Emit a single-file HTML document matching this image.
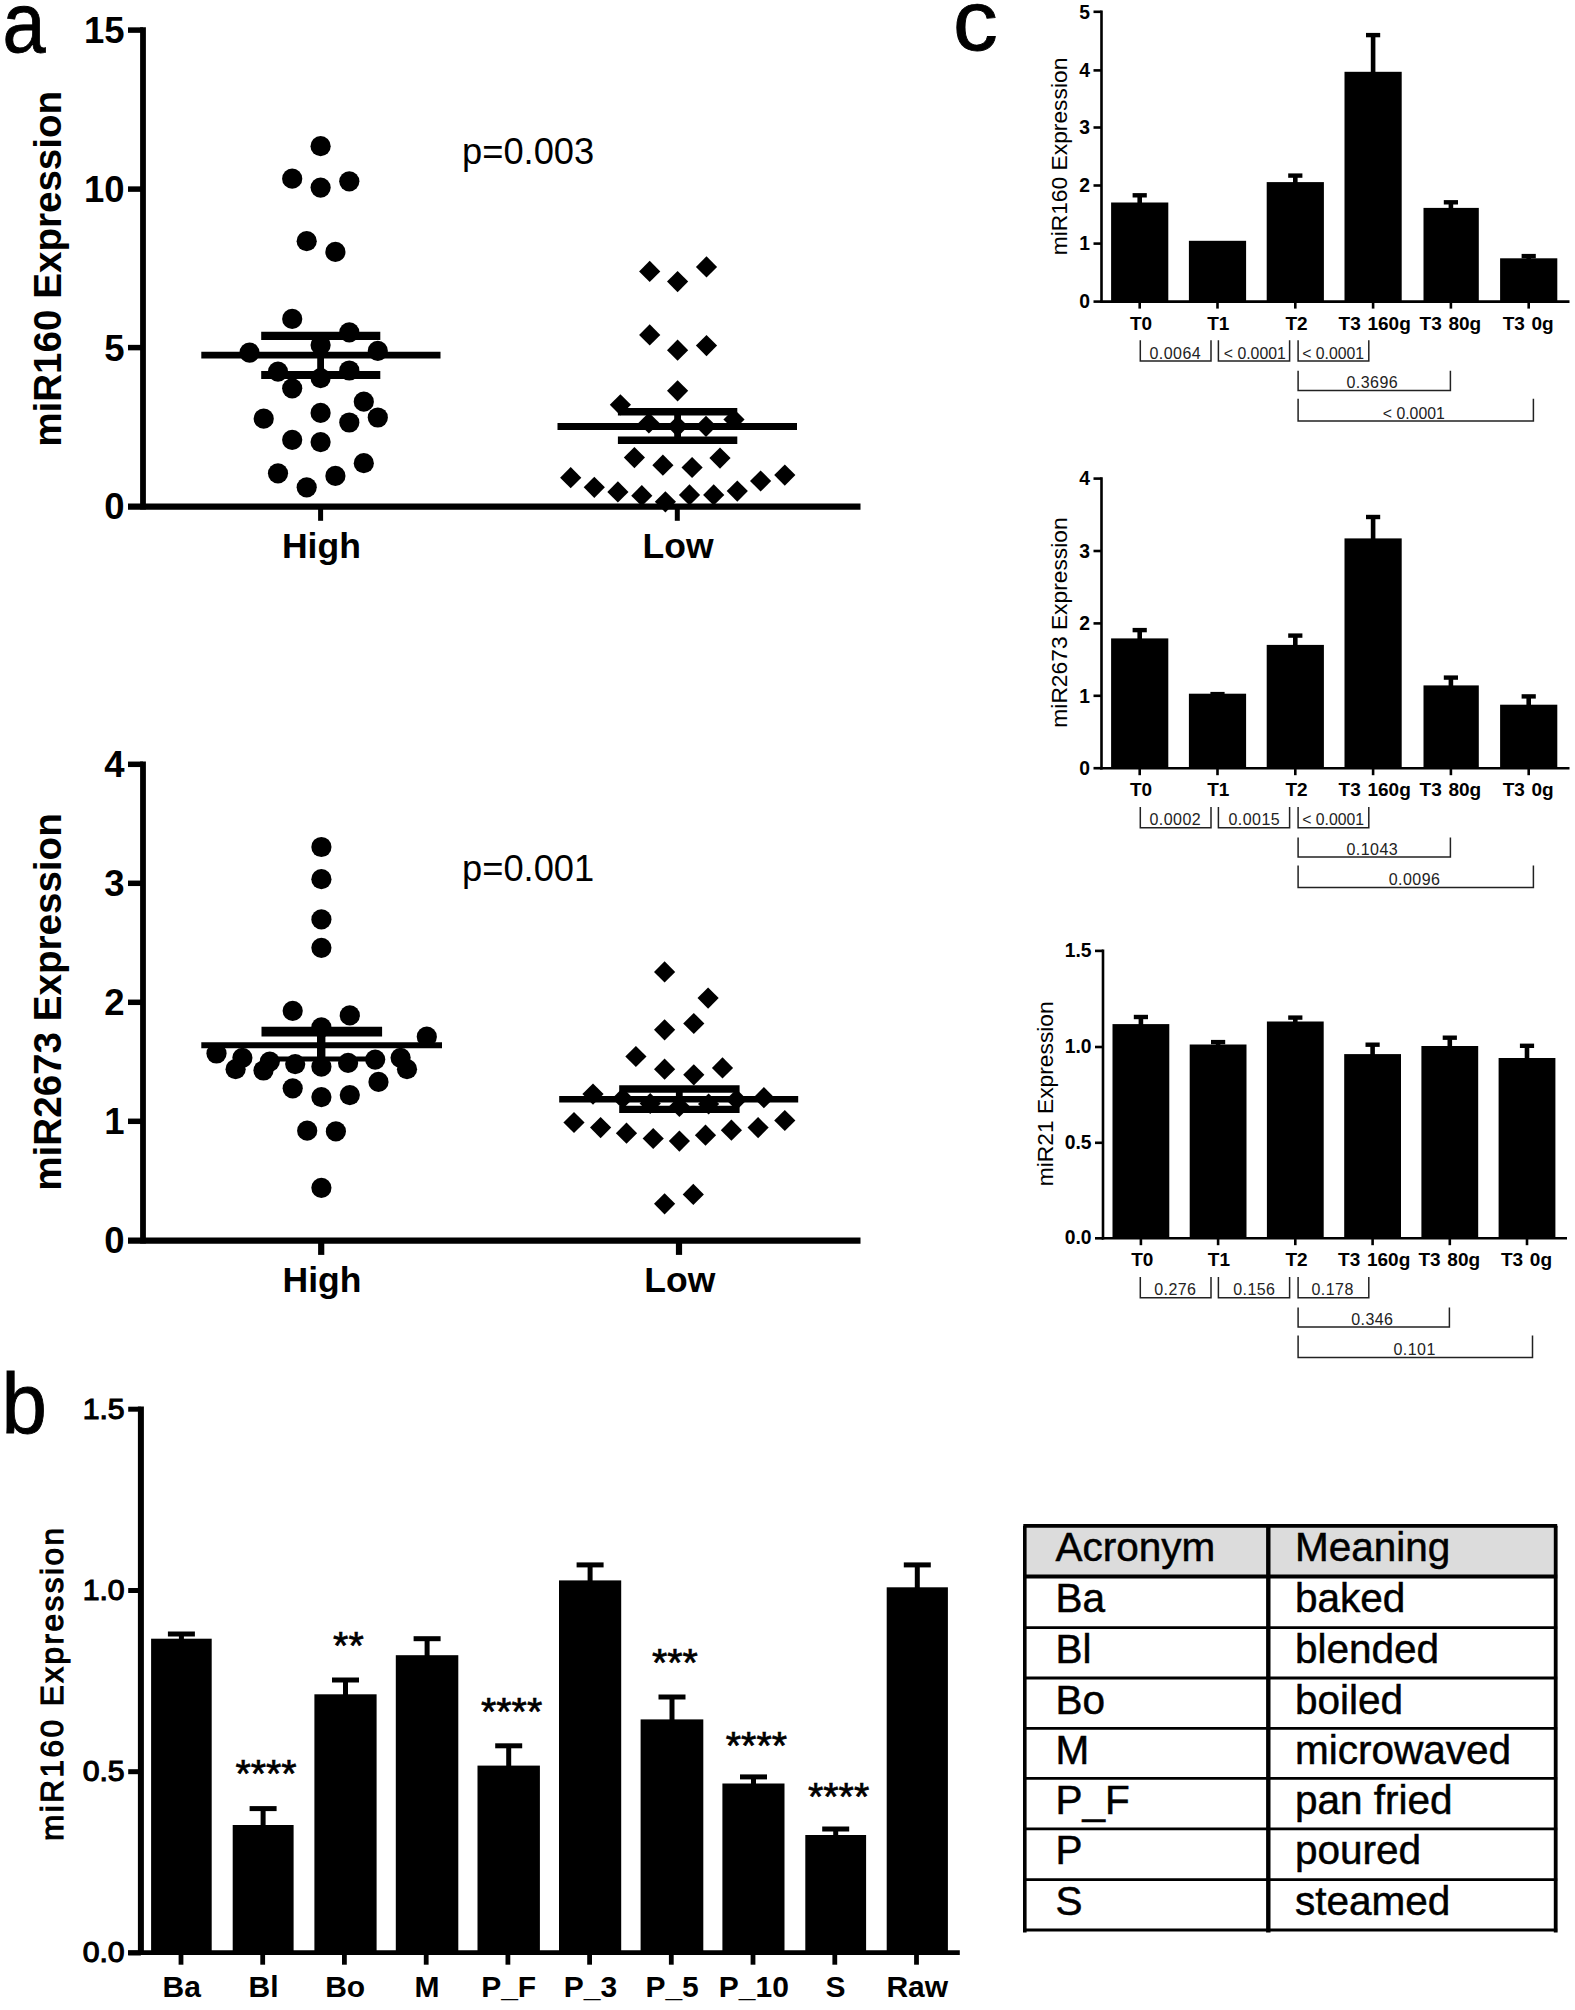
<!DOCTYPE html>
<html lang="en"><head><meta charset="utf-8"><title>Figure</title>
<style>
html,body{margin:0;padding:0;background:#fff}
svg{display:block}
text{font-family:"Liberation Sans",Arial,Helvetica,sans-serif}
</style></head>
<body>
<svg width="1575" height="2010" viewBox="0 0 1575 2010">
<rect width="1575" height="2010" fill="#fff"/>
<text transform="translate(2.4,52) scale(0.9,1)" font-size="86" stroke="#000" stroke-width="0.9">a</text>
<text transform="translate(1.5,1432.5) scale(0.95,1)" font-size="86" stroke="#000" stroke-width="0.9">b</text>
<text transform="translate(953,50.2) scale(1.04,1)" font-size="86" stroke="#000" stroke-width="0.9">c</text>
<line x1="143.0" y1="27.3" x2="143.0" y2="509.4" stroke="#000" stroke-width="5.8" stroke-linecap="butt"/>
<line x1="128.0" y1="506.6" x2="860.5" y2="506.6" stroke="#000" stroke-width="6.3" stroke-linecap="butt"/>
<line x1="128.0" y1="30.1" x2="143.0" y2="30.1" stroke="#000" stroke-width="5.5" stroke-linecap="butt"/>
<text x="124.5" y="43.1" font-size="36.5" font-weight="bold" text-anchor="end" fill="#000" >15</text>
<line x1="128.0" y1="189.1" x2="143.0" y2="189.1" stroke="#000" stroke-width="5.5" stroke-linecap="butt"/>
<text x="124.5" y="202.1" font-size="36.5" font-weight="bold" text-anchor="end" fill="#000" >10</text>
<line x1="128.0" y1="347.6" x2="143.0" y2="347.6" stroke="#000" stroke-width="5.5" stroke-linecap="butt"/>
<text x="124.5" y="360.6" font-size="36.5" font-weight="bold" text-anchor="end" fill="#000" >5</text>
<text x="124.5" y="519.3" font-size="36.5" font-weight="bold" text-anchor="end" fill="#000" >0</text>
<line x1="320.6" y1="506.3" x2="320.6" y2="520.8" stroke="#000" stroke-width="5" stroke-linecap="butt"/>
<text x="321.4" y="558.3" font-size="35.5" font-weight="bold" text-anchor="middle" fill="#000" >High</text>
<line x1="677.3" y1="506.3" x2="677.3" y2="520.8" stroke="#000" stroke-width="5" stroke-linecap="butt"/>
<text x="678.1" y="558.3" font-size="35.5" font-weight="bold" text-anchor="middle" fill="#000" >Low</text>
<text transform="translate(61.4,268.8) rotate(-90)" font-size="38.6" font-weight="bold" text-anchor="middle" fill="#000" >miR160 Expression</text>
<circle cx="320.6" cy="146.2" r="10.1"/>
<circle cx="292.2" cy="178.7" r="10.1"/>
<circle cx="320.6" cy="187.6" r="10.1"/>
<circle cx="349.3" cy="181.3" r="10.1"/>
<circle cx="306.7" cy="241.2" r="10.1"/>
<circle cx="335.4" cy="251.9" r="10.1"/>
<circle cx="292.2" cy="318.9" r="10.1"/>
<circle cx="349.3" cy="332.4" r="10.1"/>
<circle cx="320.6" cy="345.1" r="10.1"/>
<circle cx="249.5" cy="352.7" r="10.1"/>
<circle cx="377.8" cy="350.9" r="10.1"/>
<circle cx="278.0" cy="371.7" r="10.1"/>
<circle cx="349.3" cy="370.5" r="10.1"/>
<circle cx="320.6" cy="378.1" r="10.1"/>
<circle cx="292.2" cy="388.3" r="10.1"/>
<circle cx="363.8" cy="401.7" r="10.1"/>
<circle cx="320.6" cy="412.9" r="10.1"/>
<circle cx="263.7" cy="418.7" r="10.1"/>
<circle cx="377.8" cy="417.5" r="10.1"/>
<circle cx="349.3" cy="422.5" r="10.1"/>
<circle cx="292.2" cy="439.8" r="10.1"/>
<circle cx="320.6" cy="442.1" r="10.1"/>
<circle cx="363.8" cy="463.2" r="10.1"/>
<circle cx="278.0" cy="473.3" r="10.1"/>
<circle cx="335.4" cy="475.9" r="10.1"/>
<circle cx="306.7" cy="487.3" r="10.1"/>
<path d="M649.7 260.8L660.3 271.4L649.7 282.0L639.1 271.4Z"/>
<path d="M677.6 271.0L688.2 281.6L677.6 292.2L667.0 281.6Z"/>
<path d="M706.5 256.3L717.1 266.9L706.5 277.5L695.9 266.9Z"/>
<path d="M649.7 324.3L660.3 334.9L649.7 345.5L639.1 334.9Z"/>
<path d="M677.6 339.6L688.2 350.2L677.6 360.8L667.0 350.2Z"/>
<path d="M706.5 335.0L717.1 345.6L706.5 356.2L695.9 345.6Z"/>
<path d="M677.6 380.2L688.2 390.8L677.6 401.4L667.0 390.8Z"/>
<path d="M620.4 394.2L631.0 404.8L620.4 415.4L609.8 404.8Z"/>
<path d="M734.0 408.9L744.6 419.5L734.0 430.1L723.4 419.5Z"/>
<path d="M648.9 412.4L659.5 423.0L648.9 433.6L638.3 423.0Z"/>
<path d="M677.6 415.7L688.2 426.3L677.6 436.9L667.0 426.3Z"/>
<path d="M706.0 415.7L716.6 426.3L706.0 436.9L695.4 426.3Z"/>
<path d="M634.4 447.0L645.0 457.6L634.4 468.2L623.8 457.6Z"/>
<path d="M720.0 447.5L730.6 458.1L720.0 468.7L709.4 458.1Z"/>
<path d="M662.9 454.6L673.5 465.2L662.9 475.8L652.3 465.2Z"/>
<path d="M692.1 456.9L702.7 467.5L692.1 478.1L681.5 467.5Z"/>
<path d="M570.7 467.1L581.3 477.7L570.7 488.3L560.1 477.7Z"/>
<path d="M784.8 464.5L795.4 475.1L784.8 485.7L774.2 475.1Z"/>
<path d="M760.6 470.4L771.2 481.0L760.6 491.6L750.0 481.0Z"/>
<path d="M594.3 476.7L604.9 487.3L594.3 497.9L583.7 487.3Z"/>
<path d="M617.9 481.3L628.5 491.9L617.9 502.5L607.3 491.9Z"/>
<path d="M737.3 480.5L747.9 491.1L737.3 501.7L726.7 491.1Z"/>
<path d="M641.8 485.1L652.4 495.7L641.8 506.3L631.2 495.7Z"/>
<path d="M689.5 484.3L700.1 494.9L689.5 505.5L678.9 494.9Z"/>
<path d="M713.7 484.3L724.3 494.9L713.7 505.5L703.1 494.9Z"/>
<path d="M665.4 491.2L676.0 501.8L665.4 512.4L654.8 501.8Z"/>
<line x1="201.3" y1="355.2" x2="440.5" y2="355.2" stroke="#000" stroke-width="6.8" stroke-linecap="butt"/>
<line x1="261.2" y1="335.9" x2="380.3" y2="335.9" stroke="#000" stroke-width="8.3" stroke-linecap="butt"/>
<line x1="261.2" y1="375.0" x2="380.3" y2="375.0" stroke="#000" stroke-width="8.1" stroke-linecap="butt"/>
<line x1="320.6" y1="335.9" x2="320.6" y2="375.0" stroke="#000" stroke-width="6.8" stroke-linecap="butt"/>
<line x1="557.5" y1="426.5" x2="797.0" y2="426.5" stroke="#000" stroke-width="6.8" stroke-linecap="butt"/>
<line x1="617.9" y1="411.8" x2="737.3" y2="411.8" stroke="#000" stroke-width="7.4" stroke-linecap="butt"/>
<line x1="617.9" y1="440.3" x2="737.3" y2="440.3" stroke="#000" stroke-width="7.5" stroke-linecap="butt"/>
<line x1="677.6" y1="411.8" x2="677.6" y2="440.3" stroke="#000" stroke-width="6.8" stroke-linecap="butt"/>
<text x="462.0" y="163.5" font-size="36.3" font-weight="normal" text-anchor="start" fill="#000" >p=0.003</text>
<line x1="143.0" y1="761.5" x2="143.0" y2="1243.5" stroke="#000" stroke-width="5.8" stroke-linecap="butt"/>
<line x1="128.0" y1="1240.7" x2="860.5" y2="1240.7" stroke="#000" stroke-width="6.3" stroke-linecap="butt"/>
<line x1="128.0" y1="764.3" x2="143.0" y2="764.3" stroke="#000" stroke-width="5.5" stroke-linecap="butt"/>
<text x="124.5" y="777.3" font-size="36.5" font-weight="bold" text-anchor="end" fill="#000" >4</text>
<line x1="128.0" y1="883.3" x2="143.0" y2="883.3" stroke="#000" stroke-width="5.5" stroke-linecap="butt"/>
<text x="124.5" y="896.3" font-size="36.5" font-weight="bold" text-anchor="end" fill="#000" >3</text>
<line x1="128.0" y1="1002.3" x2="143.0" y2="1002.3" stroke="#000" stroke-width="5.5" stroke-linecap="butt"/>
<text x="124.5" y="1015.3" font-size="36.5" font-weight="bold" text-anchor="end" fill="#000" >2</text>
<line x1="128.0" y1="1121.3" x2="143.0" y2="1121.3" stroke="#000" stroke-width="5.5" stroke-linecap="butt"/>
<text x="124.5" y="1134.3" font-size="36.5" font-weight="bold" text-anchor="end" fill="#000" >1</text>
<text x="124.5" y="1253.4" font-size="36.5" font-weight="bold" text-anchor="end" fill="#000" >0</text>
<line x1="321.2" y1="1240.4" x2="321.2" y2="1254.9" stroke="#000" stroke-width="6.2" stroke-linecap="butt"/>
<text x="322.0" y="1292.4" font-size="35.5" font-weight="bold" text-anchor="middle" fill="#000" >High</text>
<line x1="679.0" y1="1240.4" x2="679.0" y2="1254.9" stroke="#000" stroke-width="6.2" stroke-linecap="butt"/>
<text x="679.8" y="1292.4" font-size="35.5" font-weight="bold" text-anchor="middle" fill="#000" >Low</text>
<text transform="translate(61.4,1002.0) rotate(-90)" font-size="38.6" font-weight="bold" text-anchor="middle" fill="#000" >miR2673 Expression</text>
<circle cx="321.4" cy="847.0" r="10.1"/>
<circle cx="321.4" cy="879.2" r="10.1"/>
<circle cx="321.4" cy="919.4" r="10.1"/>
<circle cx="321.4" cy="947.8" r="10.1"/>
<circle cx="292.7" cy="1010.8" r="10.1"/>
<circle cx="349.8" cy="1015.4" r="10.1"/>
<circle cx="321.4" cy="1027.3" r="10.1"/>
<circle cx="426.8" cy="1036.7" r="10.1"/>
<circle cx="216.5" cy="1053.5" r="10.1"/>
<circle cx="242.4" cy="1057.8" r="10.1"/>
<circle cx="269.8" cy="1061.6" r="10.1"/>
<circle cx="375.2" cy="1059.6" r="10.1"/>
<circle cx="400.6" cy="1057.8" r="10.1"/>
<circle cx="295.2" cy="1064.1" r="10.1"/>
<circle cx="321.4" cy="1066.7" r="10.1"/>
<circle cx="348.1" cy="1062.9" r="10.1"/>
<circle cx="235.6" cy="1069.2" r="10.1"/>
<circle cx="263.5" cy="1070.5" r="10.1"/>
<circle cx="407.0" cy="1069.2" r="10.1"/>
<circle cx="378.5" cy="1081.9" r="10.1"/>
<circle cx="292.7" cy="1088.3" r="10.1"/>
<circle cx="349.8" cy="1095.1" r="10.1"/>
<circle cx="321.4" cy="1097.1" r="10.1"/>
<circle cx="307.2" cy="1130.7" r="10.1"/>
<circle cx="335.9" cy="1131.4" r="10.1"/>
<circle cx="321.4" cy="1187.8" r="10.1"/>
<path d="M664.6 961.3L675.2 971.9L664.6 982.5L654.0 971.9Z"/>
<path d="M708.1 987.5L718.7 998.1L708.1 1008.7L697.5 998.1Z"/>
<path d="M693.8 1012.9L704.4 1023.5L693.8 1034.1L683.2 1023.5Z"/>
<path d="M664.6 1019.2L675.2 1029.8L664.6 1040.4L654.0 1029.8Z"/>
<path d="M635.9 1045.9L646.5 1056.5L635.9 1067.1L625.3 1056.5Z"/>
<path d="M664.6 1058.6L675.2 1069.2L664.6 1079.8L654.0 1069.2Z"/>
<path d="M693.8 1064.2L704.4 1074.8L693.8 1085.4L683.2 1074.8Z"/>
<path d="M722.5 1057.3L733.1 1067.9L722.5 1078.5L711.9 1067.9Z"/>
<path d="M593.0 1083.5L603.6 1094.1L593.0 1104.7L582.4 1094.1Z"/>
<path d="M763.9 1087.1L774.5 1097.7L763.9 1108.3L753.3 1097.7Z"/>
<path d="M622.7 1087.8L633.3 1098.4L622.7 1109.0L612.1 1098.4Z"/>
<path d="M650.2 1092.9L660.8 1103.5L650.2 1114.1L639.6 1103.5Z"/>
<path d="M679.4 1095.9L690.0 1106.5L679.4 1117.1L668.8 1106.5Z"/>
<path d="M708.6 1093.4L719.2 1104.0L708.6 1114.6L698.0 1104.0Z"/>
<path d="M736.5 1089.1L747.1 1099.7L736.5 1110.3L725.9 1099.7Z"/>
<path d="M574.0 1111.9L584.6 1122.5L574.0 1133.1L563.4 1122.5Z"/>
<path d="M600.6 1117.0L611.2 1127.6L600.6 1138.2L590.0 1127.6Z"/>
<path d="M626.5 1122.6L637.1 1133.2L626.5 1143.8L615.9 1133.2Z"/>
<path d="M653.2 1127.9L663.8 1138.5L653.2 1149.1L642.6 1138.5Z"/>
<path d="M679.4 1130.5L690.0 1141.1L679.4 1151.7L668.8 1141.1Z"/>
<path d="M705.5 1124.6L716.1 1135.2L705.5 1145.8L694.9 1135.2Z"/>
<path d="M731.4 1119.6L742.0 1130.2L731.4 1140.8L720.8 1130.2Z"/>
<path d="M758.1 1117.0L768.7 1127.6L758.1 1138.2L747.5 1127.6Z"/>
<path d="M784.8 1109.9L795.4 1120.5L784.8 1131.1L774.2 1120.5Z"/>
<path d="M693.3 1183.8L703.9 1194.4L693.3 1205.0L682.7 1194.4Z"/>
<path d="M664.6 1193.2L675.2 1203.8L664.6 1214.4L654.0 1203.8Z"/>
<line x1="201.3" y1="1045.3" x2="442.0" y2="1045.3" stroke="#000" stroke-width="5.9" stroke-linecap="butt"/>
<line x1="261.5" y1="1031.6" x2="382.1" y2="1031.6" stroke="#000" stroke-width="9.6" stroke-linecap="butt"/>
<line x1="261.5" y1="1059.0" x2="382.1" y2="1059.0" stroke="#000" stroke-width="4.8" stroke-linecap="butt"/>
<line x1="321.2" y1="1031.6" x2="321.2" y2="1059.0" stroke="#000" stroke-width="8.4" stroke-linecap="butt"/>
<line x1="559.2" y1="1099.2" x2="798.2" y2="1099.2" stroke="#000" stroke-width="6.4" stroke-linecap="butt"/>
<line x1="619.2" y1="1089.0" x2="739.6" y2="1089.0" stroke="#000" stroke-width="7.6" stroke-linecap="butt"/>
<line x1="619.2" y1="1109.3" x2="739.6" y2="1109.3" stroke="#000" stroke-width="7.2" stroke-linecap="butt"/>
<line x1="679.3" y1="1089.0" x2="679.3" y2="1109.3" stroke="#000" stroke-width="6.8" stroke-linecap="butt"/>
<text x="462.0" y="880.8" font-size="36.3" font-weight="normal" text-anchor="start" fill="#000" >p=0.001</text>
<line x1="140.9" y1="1406.5" x2="140.9" y2="1955.1" stroke="#000" stroke-width="6" stroke-linecap="butt"/>
<line x1="128.0" y1="1952.7" x2="959.8" y2="1952.7" stroke="#000" stroke-width="4.8" stroke-linecap="butt"/>
<line x1="128.2" y1="1409.2" x2="140.9" y2="1409.2" stroke="#000" stroke-width="5" stroke-linecap="butt"/>
<text x="124.6" y="1418.5" font-size="30.2" font-weight="normal" text-anchor="end" fill="#000" stroke="#000" stroke-width="1.2">1.5</text>
<line x1="128.2" y1="1590.5" x2="140.9" y2="1590.5" stroke="#000" stroke-width="5" stroke-linecap="butt"/>
<text x="124.6" y="1599.8" font-size="30.2" font-weight="normal" text-anchor="end" fill="#000" stroke="#000" stroke-width="1.2">1.0</text>
<line x1="128.2" y1="1771.7" x2="140.9" y2="1771.7" stroke="#000" stroke-width="5" stroke-linecap="butt"/>
<text x="124.6" y="1781.0" font-size="30.2" font-weight="normal" text-anchor="end" fill="#000" stroke="#000" stroke-width="1.2">0.5</text>
<line x1="128.2" y1="1953.0" x2="140.9" y2="1953.0" stroke="#000" stroke-width="5" stroke-linecap="butt"/>
<text x="124.6" y="1962.3" font-size="30.2" font-weight="normal" text-anchor="end" fill="#000" stroke="#000" stroke-width="1.2">0.0</text>
<text transform="translate(63.4,1683.2) rotate(-90)" font-size="31.6" font-weight="normal" text-anchor="middle" fill="#000" stroke="#000" stroke-width="1.1" letter-spacing="2.45">miR160 Expression</text>
<rect x="151.1" y="1638.7" width="60.6" height="314.0" fill="#000"/>
<line x1="181.4" y1="1634.0" x2="181.4" y2="1639.7" stroke="#000" stroke-width="5" stroke-linecap="butt"/>
<line x1="167.9" y1="1634.0" x2="194.9" y2="1634.0" stroke="#000" stroke-width="5" stroke-linecap="butt"/>
<line x1="181.0" y1="1952.7" x2="181.0" y2="1964.7" stroke="#000" stroke-width="4.8" stroke-linecap="butt"/>
<text x="181.8" y="1997.0" font-size="30" font-weight="bold" text-anchor="middle" fill="#000" >Ba</text>
<rect x="232.7" y="1825.0" width="60.9" height="127.7" fill="#000"/>
<line x1="263.1" y1="1808.6" x2="263.1" y2="1826.0" stroke="#000" stroke-width="5" stroke-linecap="butt"/>
<line x1="249.6" y1="1808.6" x2="276.6" y2="1808.6" stroke="#000" stroke-width="5" stroke-linecap="butt"/>
<line x1="262.7" y1="1952.7" x2="262.7" y2="1964.7" stroke="#000" stroke-width="4.8" stroke-linecap="butt"/>
<text x="263.5" y="1997.0" font-size="30" font-weight="bold" text-anchor="middle" fill="#000" >Bl</text>
<text x="266.0" y="1787.1" font-size="39.3" font-weight="normal" text-anchor="middle" fill="#000" stroke="#000" stroke-width="0.7">****</text>
<rect x="314.4" y="1694.3" width="62.2" height="258.4" fill="#000"/>
<line x1="345.5" y1="1680.0" x2="345.5" y2="1695.3" stroke="#000" stroke-width="5" stroke-linecap="butt"/>
<line x1="332.0" y1="1680.0" x2="359.0" y2="1680.0" stroke="#000" stroke-width="5" stroke-linecap="butt"/>
<line x1="344.4" y1="1952.7" x2="344.4" y2="1964.7" stroke="#000" stroke-width="4.8" stroke-linecap="butt"/>
<text x="345.2" y="1997.0" font-size="30" font-weight="bold" text-anchor="middle" fill="#000" >Bo</text>
<text x="348.4" y="1658.9" font-size="39.3" font-weight="normal" text-anchor="middle" fill="#000" stroke="#000" stroke-width="0.7">**</text>
<rect x="395.8" y="1655.2" width="62.5" height="297.5" fill="#000"/>
<line x1="427.1" y1="1638.7" x2="427.1" y2="1656.2" stroke="#000" stroke-width="5" stroke-linecap="butt"/>
<line x1="413.6" y1="1638.7" x2="440.6" y2="1638.7" stroke="#000" stroke-width="5" stroke-linecap="butt"/>
<line x1="426.2" y1="1952.7" x2="426.2" y2="1964.7" stroke="#000" stroke-width="4.8" stroke-linecap="butt"/>
<text x="427.0" y="1997.0" font-size="30" font-weight="bold" text-anchor="middle" fill="#000" >M</text>
<rect x="477.5" y="1765.6" width="62.4" height="187.1" fill="#000"/>
<line x1="508.7" y1="1745.8" x2="508.7" y2="1766.6" stroke="#000" stroke-width="5" stroke-linecap="butt"/>
<line x1="495.2" y1="1745.8" x2="522.2" y2="1745.8" stroke="#000" stroke-width="5" stroke-linecap="butt"/>
<line x1="507.9" y1="1952.7" x2="507.9" y2="1964.7" stroke="#000" stroke-width="4.8" stroke-linecap="butt"/>
<text x="508.7" y="1997.0" font-size="30" font-weight="bold" text-anchor="middle" fill="#000" >P_F</text>
<text x="511.6" y="1725.4" font-size="39.3" font-weight="normal" text-anchor="middle" fill="#000" stroke="#000" stroke-width="0.7">****</text>
<rect x="559.0" y="1580.4" width="62.2" height="372.3" fill="#000"/>
<line x1="590.1" y1="1564.9" x2="590.1" y2="1581.4" stroke="#000" stroke-width="5" stroke-linecap="butt"/>
<line x1="576.6" y1="1564.9" x2="603.6" y2="1564.9" stroke="#000" stroke-width="5" stroke-linecap="butt"/>
<line x1="589.6" y1="1952.7" x2="589.6" y2="1964.7" stroke="#000" stroke-width="4.8" stroke-linecap="butt"/>
<text x="590.4" y="1997.0" font-size="30" font-weight="bold" text-anchor="middle" fill="#000" >P_3</text>
<rect x="640.6" y="1719.4" width="62.7" height="233.3" fill="#000"/>
<line x1="672.0" y1="1697.0" x2="672.0" y2="1720.4" stroke="#000" stroke-width="5" stroke-linecap="butt"/>
<line x1="658.5" y1="1697.0" x2="685.5" y2="1697.0" stroke="#000" stroke-width="5" stroke-linecap="butt"/>
<line x1="671.3" y1="1952.7" x2="671.3" y2="1964.7" stroke="#000" stroke-width="4.8" stroke-linecap="butt"/>
<text x="672.1" y="1997.0" font-size="30" font-weight="bold" text-anchor="middle" fill="#000" >P_5</text>
<text x="674.9" y="1675.9" font-size="39.3" font-weight="normal" text-anchor="middle" fill="#000" stroke="#000" stroke-width="0.7">***</text>
<rect x="722.4" y="1783.5" width="62.1" height="169.2" fill="#000"/>
<line x1="753.5" y1="1776.9" x2="753.5" y2="1784.5" stroke="#000" stroke-width="5" stroke-linecap="butt"/>
<line x1="740.0" y1="1776.9" x2="767.0" y2="1776.9" stroke="#000" stroke-width="5" stroke-linecap="butt"/>
<line x1="753.0" y1="1952.7" x2="753.0" y2="1964.7" stroke="#000" stroke-width="4.8" stroke-linecap="butt"/>
<text x="753.8" y="1997.0" font-size="30" font-weight="bold" text-anchor="middle" fill="#000" >P_10</text>
<text x="756.4" y="1759.1" font-size="39.3" font-weight="normal" text-anchor="middle" fill="#000" stroke="#000" stroke-width="0.7">****</text>
<rect x="805.3" y="1835.0" width="60.8" height="117.7" fill="#000"/>
<line x1="835.7" y1="1829.0" x2="835.7" y2="1836.0" stroke="#000" stroke-width="5" stroke-linecap="butt"/>
<line x1="822.2" y1="1829.0" x2="849.2" y2="1829.0" stroke="#000" stroke-width="5" stroke-linecap="butt"/>
<line x1="834.8" y1="1952.7" x2="834.8" y2="1964.7" stroke="#000" stroke-width="4.8" stroke-linecap="butt"/>
<text x="835.6" y="1997.0" font-size="30" font-weight="bold" text-anchor="middle" fill="#000" >S</text>
<text x="838.6" y="1809.6" font-size="39.3" font-weight="normal" text-anchor="middle" fill="#000" stroke="#000" stroke-width="0.7">****</text>
<rect x="886.7" y="1587.3" width="61.2" height="365.4" fill="#000"/>
<line x1="917.3" y1="1564.9" x2="917.3" y2="1588.3" stroke="#000" stroke-width="5" stroke-linecap="butt"/>
<line x1="903.8" y1="1564.9" x2="930.8" y2="1564.9" stroke="#000" stroke-width="5" stroke-linecap="butt"/>
<line x1="916.5" y1="1952.7" x2="916.5" y2="1964.7" stroke="#000" stroke-width="4.8" stroke-linecap="butt"/>
<text x="917.3" y="1997.0" font-size="30" font-weight="bold" text-anchor="middle" fill="#000" >Raw</text>
<line x1="1101.5" y1="10.5" x2="1101.5" y2="302.9" stroke="#000" stroke-width="2.6" stroke-linecap="butt"/>
<line x1="1100.2" y1="301.6" x2="1569.5" y2="301.6" stroke="#000" stroke-width="2.6" stroke-linecap="butt"/>
<line x1="1093.5" y1="11.8" x2="1101.5" y2="11.8" stroke="#000" stroke-width="2.6" stroke-linecap="butt"/>
<text x="1090.0" y="18.6" font-size="19.3" font-weight="bold" text-anchor="end" fill="#000" >5</text>
<line x1="1093.5" y1="70.4" x2="1101.5" y2="70.4" stroke="#000" stroke-width="2.6" stroke-linecap="butt"/>
<text x="1090.0" y="77.2" font-size="19.3" font-weight="bold" text-anchor="end" fill="#000" >4</text>
<line x1="1093.5" y1="127.5" x2="1101.5" y2="127.5" stroke="#000" stroke-width="2.6" stroke-linecap="butt"/>
<text x="1090.0" y="134.3" font-size="19.3" font-weight="bold" text-anchor="end" fill="#000" >3</text>
<line x1="1093.5" y1="185.5" x2="1101.5" y2="185.5" stroke="#000" stroke-width="2.6" stroke-linecap="butt"/>
<text x="1090.0" y="192.3" font-size="19.3" font-weight="bold" text-anchor="end" fill="#000" >2</text>
<line x1="1093.5" y1="243.6" x2="1101.5" y2="243.6" stroke="#000" stroke-width="2.6" stroke-linecap="butt"/>
<text x="1090.0" y="250.4" font-size="19.3" font-weight="bold" text-anchor="end" fill="#000" >1</text>
<line x1="1093.5" y1="301.6" x2="1101.5" y2="301.6" stroke="#000" stroke-width="2.6" stroke-linecap="butt"/>
<text x="1090.0" y="308.4" font-size="19.3" font-weight="bold" text-anchor="end" fill="#000" >0</text>
<text transform="translate(1067.2,156.5) rotate(-90)" font-size="22.8" font-weight="normal" text-anchor="middle" fill="#000" >miR160 Expression</text>
<rect x="1111.1" y="202.5" width="57.2" height="99.1" fill="#000"/>
<line x1="1139.7" y1="194.8" x2="1139.7" y2="203.5" stroke="#000" stroke-width="4.6" stroke-linecap="butt"/>
<line x1="1132.6" y1="195.3" x2="1146.8" y2="195.3" stroke="#000" stroke-width="4.4" stroke-linecap="butt"/>
<line x1="1139.7" y1="301.6" x2="1139.7" y2="308.6" stroke="#000" stroke-width="2.6" stroke-linecap="butt"/>
<text x="1141.1" y="329.8" font-size="19" font-weight="bold" text-anchor="middle" fill="#000" word-spacing="1.4">T0</text>
<rect x="1188.9" y="240.8" width="57.2" height="60.8" fill="#000"/>
<line x1="1217.5" y1="301.6" x2="1217.5" y2="308.6" stroke="#000" stroke-width="2.6" stroke-linecap="butt"/>
<text x="1218.3" y="329.8" font-size="19" font-weight="bold" text-anchor="middle" fill="#000" word-spacing="1.4">T1</text>
<rect x="1266.7" y="182.1" width="57.2" height="119.5" fill="#000"/>
<line x1="1295.3" y1="175.1" x2="1295.3" y2="183.1" stroke="#000" stroke-width="4.6" stroke-linecap="butt"/>
<line x1="1288.2" y1="175.6" x2="1302.4" y2="175.6" stroke="#000" stroke-width="4.4" stroke-linecap="butt"/>
<line x1="1295.3" y1="301.6" x2="1295.3" y2="308.6" stroke="#000" stroke-width="2.6" stroke-linecap="butt"/>
<text x="1296.5" y="329.8" font-size="19" font-weight="bold" text-anchor="middle" fill="#000" word-spacing="1.4">T2</text>
<rect x="1344.5" y="71.8" width="57.2" height="229.8" fill="#000"/>
<line x1="1373.1" y1="34.6" x2="1373.1" y2="72.8" stroke="#000" stroke-width="4.6" stroke-linecap="butt"/>
<line x1="1366.0" y1="35.1" x2="1380.2" y2="35.1" stroke="#000" stroke-width="4.4" stroke-linecap="butt"/>
<line x1="1373.1" y1="301.6" x2="1373.1" y2="308.6" stroke="#000" stroke-width="2.6" stroke-linecap="butt"/>
<text x="1374.7" y="329.8" font-size="19" font-weight="bold" text-anchor="middle" fill="#000" word-spacing="1.4">T3 160g</text>
<rect x="1423.5" y="207.9" width="55.3" height="93.7" fill="#000"/>
<line x1="1450.9" y1="201.8" x2="1450.9" y2="208.9" stroke="#000" stroke-width="4.6" stroke-linecap="butt"/>
<line x1="1443.8" y1="202.3" x2="1458.0" y2="202.3" stroke="#000" stroke-width="4.4" stroke-linecap="butt"/>
<line x1="1450.9" y1="301.6" x2="1450.9" y2="308.6" stroke="#000" stroke-width="2.6" stroke-linecap="butt"/>
<text x="1450.4" y="329.8" font-size="19" font-weight="bold" text-anchor="middle" fill="#000" word-spacing="1.4">T3 80g</text>
<rect x="1500.1" y="258.3" width="57.2" height="43.3" fill="#000"/>
<line x1="1528.7" y1="255.6" x2="1528.7" y2="259.3" stroke="#000" stroke-width="4.6" stroke-linecap="butt"/>
<line x1="1521.6" y1="256.1" x2="1535.8" y2="256.1" stroke="#000" stroke-width="4.4" stroke-linecap="butt"/>
<line x1="1528.7" y1="301.6" x2="1528.7" y2="308.6" stroke="#000" stroke-width="2.6" stroke-linecap="butt"/>
<text x="1528.2" y="329.8" font-size="19" font-weight="bold" text-anchor="middle" fill="#000" word-spacing="1.4">T3 0g</text>
<path d="M1140.3 340.3V361.1H1211.0V340.3" fill="none" stroke="#222" stroke-width="1.5"/>
<text x="1175.3" y="358.8" font-size="16" font-weight="normal" text-anchor="middle" fill="#222" letter-spacing="0.45">0.0064</text>
<path d="M1218.4 340.3V361.1H1289.6V340.3" fill="none" stroke="#222" stroke-width="1.5"/>
<text x="1254.8" y="358.8" font-size="15.8" font-weight="normal" text-anchor="middle" fill="#222" >&lt; 0.0001</text>
<path d="M1298.1 340.3V361.1H1368.8V340.3" fill="none" stroke="#222" stroke-width="1.5"/>
<text x="1333.1" y="358.8" font-size="15.8" font-weight="normal" text-anchor="middle" fill="#222" >&lt; 0.0001</text>
<path d="M1298.1 370.8V390.4H1450.4V370.8" fill="none" stroke="#222" stroke-width="1.5"/>
<text x="1372.3" y="388.1" font-size="16" font-weight="normal" text-anchor="middle" fill="#222" letter-spacing="0.45">0.3696</text>
<path d="M1298.1 398.8V421.0H1533.4V398.8" fill="none" stroke="#222" stroke-width="1.5"/>
<text x="1413.8" y="418.7" font-size="15.8" font-weight="normal" text-anchor="middle" fill="#222" >&lt; 0.0001</text>
<line x1="1101.5" y1="477.3" x2="1101.5" y2="769.5" stroke="#000" stroke-width="2.6" stroke-linecap="butt"/>
<line x1="1100.2" y1="768.2" x2="1569.5" y2="768.2" stroke="#000" stroke-width="2.6" stroke-linecap="butt"/>
<line x1="1093.5" y1="478.6" x2="1101.5" y2="478.6" stroke="#000" stroke-width="2.6" stroke-linecap="butt"/>
<text x="1090.0" y="485.4" font-size="19.3" font-weight="bold" text-anchor="end" fill="#000" >4</text>
<line x1="1093.5" y1="551.0" x2="1101.5" y2="551.0" stroke="#000" stroke-width="2.6" stroke-linecap="butt"/>
<text x="1090.0" y="557.8" font-size="19.3" font-weight="bold" text-anchor="end" fill="#000" >3</text>
<line x1="1093.5" y1="623.4" x2="1101.5" y2="623.4" stroke="#000" stroke-width="2.6" stroke-linecap="butt"/>
<text x="1090.0" y="630.2" font-size="19.3" font-weight="bold" text-anchor="end" fill="#000" >2</text>
<line x1="1093.5" y1="695.8" x2="1101.5" y2="695.8" stroke="#000" stroke-width="2.6" stroke-linecap="butt"/>
<text x="1090.0" y="702.6" font-size="19.3" font-weight="bold" text-anchor="end" fill="#000" >1</text>
<line x1="1093.5" y1="768.2" x2="1101.5" y2="768.2" stroke="#000" stroke-width="2.6" stroke-linecap="butt"/>
<text x="1090.0" y="775.0" font-size="19.3" font-weight="bold" text-anchor="end" fill="#000" >0</text>
<text transform="translate(1067.3,622.5) rotate(-90)" font-size="22.8" font-weight="normal" text-anchor="middle" fill="#000" >miR2673 Expression</text>
<rect x="1111.1" y="638.4" width="57.2" height="129.8" fill="#000"/>
<line x1="1139.7" y1="629.6" x2="1139.7" y2="639.4" stroke="#000" stroke-width="4.6" stroke-linecap="butt"/>
<line x1="1132.6" y1="630.1" x2="1146.8" y2="630.1" stroke="#000" stroke-width="4.4" stroke-linecap="butt"/>
<line x1="1139.7" y1="768.2" x2="1139.7" y2="775.2" stroke="#000" stroke-width="2.6" stroke-linecap="butt"/>
<text x="1141.1" y="796.4" font-size="19" font-weight="bold" text-anchor="middle" fill="#000" word-spacing="1.4">T0</text>
<rect x="1188.9" y="693.7" width="57.2" height="74.5" fill="#000"/>
<line x1="1217.5" y1="693.6" x2="1217.5" y2="694.7" stroke="#000" stroke-width="4.6" stroke-linecap="butt"/>
<line x1="1210.4" y1="694.1" x2="1224.6" y2="694.1" stroke="#000" stroke-width="4.4" stroke-linecap="butt"/>
<line x1="1217.5" y1="768.2" x2="1217.5" y2="775.2" stroke="#000" stroke-width="2.6" stroke-linecap="butt"/>
<text x="1218.3" y="796.4" font-size="19" font-weight="bold" text-anchor="middle" fill="#000" word-spacing="1.4">T1</text>
<rect x="1266.7" y="644.9" width="57.2" height="123.3" fill="#000"/>
<line x1="1295.3" y1="635.1" x2="1295.3" y2="645.9" stroke="#000" stroke-width="4.6" stroke-linecap="butt"/>
<line x1="1288.2" y1="635.6" x2="1302.4" y2="635.6" stroke="#000" stroke-width="4.4" stroke-linecap="butt"/>
<line x1="1295.3" y1="768.2" x2="1295.3" y2="775.2" stroke="#000" stroke-width="2.6" stroke-linecap="butt"/>
<text x="1296.5" y="796.4" font-size="19" font-weight="bold" text-anchor="middle" fill="#000" word-spacing="1.4">T2</text>
<rect x="1344.5" y="538.4" width="57.2" height="229.8" fill="#000"/>
<line x1="1373.1" y1="516.5" x2="1373.1" y2="539.4" stroke="#000" stroke-width="4.6" stroke-linecap="butt"/>
<line x1="1366.0" y1="517.0" x2="1380.2" y2="517.0" stroke="#000" stroke-width="4.4" stroke-linecap="butt"/>
<line x1="1373.1" y1="768.2" x2="1373.1" y2="775.2" stroke="#000" stroke-width="2.6" stroke-linecap="butt"/>
<text x="1374.7" y="796.4" font-size="19" font-weight="bold" text-anchor="middle" fill="#000" word-spacing="1.4">T3 160g</text>
<rect x="1423.5" y="685.4" width="55.3" height="82.8" fill="#000"/>
<line x1="1450.9" y1="677.1" x2="1450.9" y2="686.4" stroke="#000" stroke-width="4.6" stroke-linecap="butt"/>
<line x1="1443.8" y1="677.6" x2="1458.0" y2="677.6" stroke="#000" stroke-width="4.4" stroke-linecap="butt"/>
<line x1="1450.9" y1="768.2" x2="1450.9" y2="775.2" stroke="#000" stroke-width="2.6" stroke-linecap="butt"/>
<text x="1450.4" y="796.4" font-size="19" font-weight="bold" text-anchor="middle" fill="#000" word-spacing="1.4">T3 80g</text>
<rect x="1500.1" y="704.7" width="57.2" height="63.5" fill="#000"/>
<line x1="1528.7" y1="695.9" x2="1528.7" y2="705.7" stroke="#000" stroke-width="4.6" stroke-linecap="butt"/>
<line x1="1521.6" y1="696.4" x2="1535.8" y2="696.4" stroke="#000" stroke-width="4.4" stroke-linecap="butt"/>
<line x1="1528.7" y1="768.2" x2="1528.7" y2="775.2" stroke="#000" stroke-width="2.6" stroke-linecap="butt"/>
<text x="1528.2" y="796.4" font-size="19" font-weight="bold" text-anchor="middle" fill="#000" word-spacing="1.4">T3 0g</text>
<path d="M1140.3 806.9V827.7H1211.0V806.9" fill="none" stroke="#222" stroke-width="1.5"/>
<text x="1175.3" y="825.4" font-size="16" font-weight="normal" text-anchor="middle" fill="#222" letter-spacing="0.45">0.0002</text>
<path d="M1218.4 806.9V827.7H1289.6V806.9" fill="none" stroke="#222" stroke-width="1.5"/>
<text x="1254.3" y="825.4" font-size="16" font-weight="normal" text-anchor="middle" fill="#222" letter-spacing="0.45">0.0015</text>
<path d="M1298.1 806.9V827.7H1368.8V806.9" fill="none" stroke="#222" stroke-width="1.5"/>
<text x="1333.1" y="825.4" font-size="15.8" font-weight="normal" text-anchor="middle" fill="#222" >&lt; 0.0001</text>
<path d="M1298.1 837.4V857.0H1450.4V837.4" fill="none" stroke="#222" stroke-width="1.5"/>
<text x="1372.3" y="854.7" font-size="16" font-weight="normal" text-anchor="middle" fill="#222" letter-spacing="0.45">0.1043</text>
<path d="M1298.1 865.4V887.6H1533.4V865.4" fill="none" stroke="#222" stroke-width="1.5"/>
<text x="1414.6" y="885.3" font-size="16" font-weight="normal" text-anchor="middle" fill="#222" letter-spacing="0.45">0.0096</text>
<line x1="1103.0" y1="949.6" x2="1103.0" y2="1239.5" stroke="#000" stroke-width="2.6" stroke-linecap="butt"/>
<line x1="1101.7" y1="1238.2" x2="1567.0" y2="1238.2" stroke="#000" stroke-width="2.6" stroke-linecap="butt"/>
<line x1="1095.0" y1="950.9" x2="1103.0" y2="950.9" stroke="#000" stroke-width="2.6" stroke-linecap="butt"/>
<text x="1091.5" y="956.8" font-size="19.3" font-weight="bold" text-anchor="end" fill="#000" >1.5</text>
<line x1="1095.0" y1="1047.0" x2="1103.0" y2="1047.0" stroke="#000" stroke-width="2.6" stroke-linecap="butt"/>
<text x="1091.5" y="1052.9" font-size="19.3" font-weight="bold" text-anchor="end" fill="#000" >1.0</text>
<line x1="1095.0" y1="1142.8" x2="1103.0" y2="1142.8" stroke="#000" stroke-width="2.6" stroke-linecap="butt"/>
<text x="1091.5" y="1148.7" font-size="19.3" font-weight="bold" text-anchor="end" fill="#000" >0.5</text>
<line x1="1095.0" y1="1238.3" x2="1103.0" y2="1238.3" stroke="#000" stroke-width="2.6" stroke-linecap="butt"/>
<text x="1091.5" y="1244.2" font-size="19.3" font-weight="bold" text-anchor="end" fill="#000" >0.0</text>
<text transform="translate(1053.0,1093.8) rotate(-90)" font-size="22.8" font-weight="normal" text-anchor="middle" fill="#000" >miR21 Expression</text>
<rect x="1112.5" y="1024.1" width="56.8" height="214.1" fill="#000"/>
<line x1="1140.9" y1="1016.5" x2="1140.9" y2="1025.1" stroke="#000" stroke-width="4.6" stroke-linecap="butt"/>
<line x1="1133.8" y1="1017.0" x2="1148.0" y2="1017.0" stroke="#000" stroke-width="4.4" stroke-linecap="butt"/>
<line x1="1140.9" y1="1238.2" x2="1140.9" y2="1245.2" stroke="#000" stroke-width="2.6" stroke-linecap="butt"/>
<text x="1142.3" y="1266.4" font-size="19" font-weight="bold" text-anchor="middle" fill="#000" word-spacing="1.4">T0</text>
<rect x="1189.7" y="1044.5" width="56.8" height="193.7" fill="#000"/>
<line x1="1218.1" y1="1041.6" x2="1218.1" y2="1045.5" stroke="#000" stroke-width="4.6" stroke-linecap="butt"/>
<line x1="1211.0" y1="1042.1" x2="1225.2" y2="1042.1" stroke="#000" stroke-width="4.4" stroke-linecap="butt"/>
<line x1="1218.1" y1="1238.2" x2="1218.1" y2="1245.2" stroke="#000" stroke-width="2.6" stroke-linecap="butt"/>
<text x="1218.9" y="1266.4" font-size="19" font-weight="bold" text-anchor="middle" fill="#000" word-spacing="1.4">T1</text>
<rect x="1266.9" y="1021.5" width="56.8" height="216.7" fill="#000"/>
<line x1="1295.3" y1="1017.1" x2="1295.3" y2="1022.5" stroke="#000" stroke-width="4.6" stroke-linecap="butt"/>
<line x1="1288.2" y1="1017.6" x2="1302.4" y2="1017.6" stroke="#000" stroke-width="4.4" stroke-linecap="butt"/>
<line x1="1295.3" y1="1238.2" x2="1295.3" y2="1245.2" stroke="#000" stroke-width="2.6" stroke-linecap="butt"/>
<text x="1296.5" y="1266.4" font-size="19" font-weight="bold" text-anchor="middle" fill="#000" word-spacing="1.4">T2</text>
<rect x="1344.2" y="1054.1" width="56.8" height="184.1" fill="#000"/>
<line x1="1372.6" y1="1044.2" x2="1372.6" y2="1055.1" stroke="#000" stroke-width="4.6" stroke-linecap="butt"/>
<line x1="1365.5" y1="1044.7" x2="1379.7" y2="1044.7" stroke="#000" stroke-width="4.4" stroke-linecap="butt"/>
<line x1="1372.6" y1="1238.2" x2="1372.6" y2="1245.2" stroke="#000" stroke-width="2.6" stroke-linecap="butt"/>
<text x="1374.2" y="1266.4" font-size="19" font-weight="bold" text-anchor="middle" fill="#000" word-spacing="1.4">T3 160g</text>
<rect x="1421.4" y="1046.0" width="56.8" height="192.2" fill="#000"/>
<line x1="1449.8" y1="1037.2" x2="1449.8" y2="1047.0" stroke="#000" stroke-width="4.6" stroke-linecap="butt"/>
<line x1="1442.7" y1="1037.7" x2="1456.9" y2="1037.7" stroke="#000" stroke-width="4.4" stroke-linecap="butt"/>
<line x1="1449.8" y1="1238.2" x2="1449.8" y2="1245.2" stroke="#000" stroke-width="2.6" stroke-linecap="butt"/>
<text x="1449.3" y="1266.4" font-size="19" font-weight="bold" text-anchor="middle" fill="#000" word-spacing="1.4">T3 80g</text>
<rect x="1498.6" y="1058.0" width="56.8" height="180.2" fill="#000"/>
<line x1="1527.0" y1="1045.3" x2="1527.0" y2="1059.0" stroke="#000" stroke-width="4.6" stroke-linecap="butt"/>
<line x1="1519.9" y1="1045.8" x2="1534.1" y2="1045.8" stroke="#000" stroke-width="4.4" stroke-linecap="butt"/>
<line x1="1527.0" y1="1238.2" x2="1527.0" y2="1245.2" stroke="#000" stroke-width="2.6" stroke-linecap="butt"/>
<text x="1526.5" y="1266.4" font-size="19" font-weight="bold" text-anchor="middle" fill="#000" word-spacing="1.4">T3 0g</text>
<path d="M1140.3 1276.9V1297.7H1211.0V1276.9" fill="none" stroke="#222" stroke-width="1.5"/>
<text x="1175.3" y="1295.4" font-size="16" font-weight="normal" text-anchor="middle" fill="#222" letter-spacing="0.45">0.276</text>
<path d="M1218.4 1276.9V1297.7H1289.6V1276.9" fill="none" stroke="#222" stroke-width="1.5"/>
<text x="1254.3" y="1295.4" font-size="16" font-weight="normal" text-anchor="middle" fill="#222" letter-spacing="0.45">0.156</text>
<path d="M1298.1 1276.9V1297.7H1368.8V1276.9" fill="none" stroke="#222" stroke-width="1.5"/>
<text x="1332.6" y="1295.4" font-size="16" font-weight="normal" text-anchor="middle" fill="#222" letter-spacing="0.45">0.178</text>
<path d="M1298.1 1307.4V1327.0H1449.4V1307.4" fill="none" stroke="#222" stroke-width="1.5"/>
<text x="1372.3" y="1324.7" font-size="16" font-weight="normal" text-anchor="middle" fill="#222" letter-spacing="0.45">0.346</text>
<path d="M1298.1 1335.4V1357.6H1532.5V1335.4" fill="none" stroke="#222" stroke-width="1.5"/>
<text x="1414.6" y="1355.3" font-size="16" font-weight="normal" text-anchor="middle" fill="#222" letter-spacing="0.45">0.101</text>
<rect x="1024.8" y="1525.8" width="530.9" height="50.7" fill="#dcdcdc"/>
<line x1="1023.3" y1="1525.8" x2="1557.2" y2="1525.8" stroke="#000" stroke-width="3.8" stroke-linecap="butt"/>
<line x1="1023.3" y1="1576.5" x2="1557.2" y2="1576.5" stroke="#000" stroke-width="4.0" stroke-linecap="butt"/>
<line x1="1023.3" y1="1627.6" x2="1557.2" y2="1627.6" stroke="#000" stroke-width="2.8" stroke-linecap="butt"/>
<line x1="1023.3" y1="1678.0" x2="1557.2" y2="1678.0" stroke="#000" stroke-width="2.8" stroke-linecap="butt"/>
<line x1="1023.3" y1="1728.4" x2="1557.2" y2="1728.4" stroke="#000" stroke-width="2.8" stroke-linecap="butt"/>
<line x1="1023.3" y1="1778.4" x2="1557.2" y2="1778.4" stroke="#000" stroke-width="2.8" stroke-linecap="butt"/>
<line x1="1023.3" y1="1828.8" x2="1557.2" y2="1828.8" stroke="#000" stroke-width="2.8" stroke-linecap="butt"/>
<line x1="1023.3" y1="1879.6" x2="1557.2" y2="1879.6" stroke="#000" stroke-width="2.8" stroke-linecap="butt"/>
<line x1="1023.3" y1="1930.0" x2="1557.2" y2="1930.0" stroke="#000" stroke-width="2.8" stroke-linecap="butt"/>
<line x1="1024.8" y1="1525.8" x2="1024.8" y2="1932.5" stroke="#000" stroke-width="3.6" stroke-linecap="butt"/>
<line x1="1555.7" y1="1525.8" x2="1555.7" y2="1932.5" stroke="#000" stroke-width="3.8" stroke-linecap="butt"/>
<line x1="1268.3" y1="1525.8" x2="1268.3" y2="1932.5" stroke="#000" stroke-width="4.4" stroke-linecap="butt"/>
<text x="1055.5" y="1561.4" font-size="40.5" font-weight="normal" text-anchor="start" fill="#000" stroke="#000" stroke-width="0.5">Acronym</text>
<text x="1295.0" y="1561.4" font-size="40.5" font-weight="normal" text-anchor="start" fill="#000" stroke="#000" stroke-width="0.5">Meaning</text>
<text x="1055.5" y="1612.1" font-size="40.5" font-weight="normal" text-anchor="start" fill="#000" stroke="#000" stroke-width="0.5">Ba</text>
<text x="1295.0" y="1612.1" font-size="40.5" font-weight="normal" text-anchor="start" fill="#000" stroke="#000" stroke-width="0.5">baked</text>
<text x="1055.5" y="1663.2" font-size="40.5" font-weight="normal" text-anchor="start" fill="#000" stroke="#000" stroke-width="0.5">Bl</text>
<text x="1295.0" y="1663.2" font-size="40.5" font-weight="normal" text-anchor="start" fill="#000" stroke="#000" stroke-width="0.5">blended</text>
<text x="1055.5" y="1713.6" font-size="40.5" font-weight="normal" text-anchor="start" fill="#000" stroke="#000" stroke-width="0.5">Bo</text>
<text x="1295.0" y="1713.6" font-size="40.5" font-weight="normal" text-anchor="start" fill="#000" stroke="#000" stroke-width="0.5">boiled</text>
<text x="1055.5" y="1764.0" font-size="40.5" font-weight="normal" text-anchor="start" fill="#000" stroke="#000" stroke-width="0.5">M</text>
<text x="1295.0" y="1764.0" font-size="40.5" font-weight="normal" text-anchor="start" fill="#000" stroke="#000" stroke-width="0.5">microwaved</text>
<text x="1055.5" y="1814.0" font-size="40.5" font-weight="normal" text-anchor="start" fill="#000" stroke="#000" stroke-width="0.5">P_F</text>
<text x="1295.0" y="1814.0" font-size="40.5" font-weight="normal" text-anchor="start" fill="#000" stroke="#000" stroke-width="0.5">pan fried</text>
<text x="1055.5" y="1864.4" font-size="40.5" font-weight="normal" text-anchor="start" fill="#000" stroke="#000" stroke-width="0.5">P</text>
<text x="1295.0" y="1864.4" font-size="40.5" font-weight="normal" text-anchor="start" fill="#000" stroke="#000" stroke-width="0.5">poured</text>
<text x="1055.5" y="1915.2" font-size="40.5" font-weight="normal" text-anchor="start" fill="#000" stroke="#000" stroke-width="0.5">S</text>
<text x="1295.0" y="1915.2" font-size="40.5" font-weight="normal" text-anchor="start" fill="#000" stroke="#000" stroke-width="0.5">steamed</text>
</svg>
</body></html>
